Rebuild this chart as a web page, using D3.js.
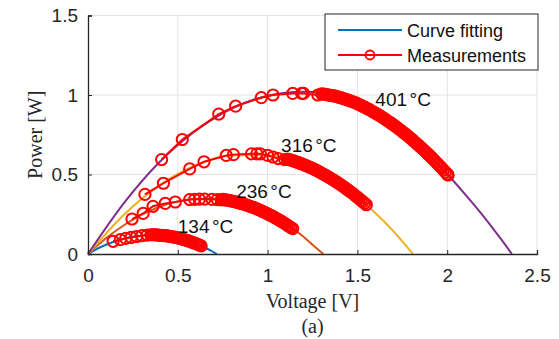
<!DOCTYPE html>
<html>
<head>
<meta charset="utf-8">
<script src="https://cdn.jsdelivr.net/npm/d3@7"></script>
<style>
  body { margin: 0; background: #fff; }
  svg { display: block; }
</style>
</head>
<body>
<div id="chart"></div>
<script>
// fitted curves (voltage, power)
const fit134V = [0, 0.05, 0.1, 0.2, 0.3, 0.4, 0.5, 0.6, 0.65, 0.7, 0.717];
const fit134P = [0, 0.032, 0.058, 0.097, 0.117, 0.118, 0.101, 0.066, 0.041, 0.011, 0];
const fit236V = [0, 0.1, 0.2, 0.3, 0.4, 0.5, 0.6, 0.7, 0.8, 0.9, 1.0, 1.1, 1.2, 1.25, 1.31];
const fit236P = [0, 0.099, 0.181, 0.247, 0.297, 0.331, 0.348, 0.349, 0.333, 0.301, 0.253, 0.189, 0.108, 0.058, 0];
const fit316V = [0, 0.2, 0.4, 0.6, 0.8, 1.0, 1.2, 1.4, 1.5, 1.6, 1.7, 1.75, 1.81];
const fit316P = [0, 0.247, 0.433, 0.558, 0.62, 0.621, 0.562, 0.441, 0.357, 0.258, 0.144, 0.08, 0];
const fit401V = [0, 0.2, 0.4, 0.6, 0.8, 1.0, 1.2, 1.4, 1.6, 1.8, 2.0, 2.1, 2.2, 2.3, 2.36];
const fit401P = [0, 0.32, 0.58, 0.775, 0.915, 0.995, 1.02, 0.985, 0.886, 0.724, 0.503, 0.375, 0.24, 0.093, 0];

// measured points
const meas134V = [0.14, 0.18, 0.21, 0.24, 0.27, 0.30, 0.33, 0.35,
  0.36, 0.37, 0.38, 0.39, 0.40, 0.41, 0.42, 0.43, 0.44, 0.45, 0.46, 0.47, 0.48, 0.49, 0.50,
  0.51, 0.52, 0.53, 0.54, 0.55, 0.56, 0.57, 0.58, 0.59, 0.60, 0.61, 0.62, 0.63];
const meas134P = [0.08, 0.09, 0.098, 0.104, 0.11, 0.115, 0.119, 0.121,
  0.121, 0.121, 0.120, 0.119, 0.118, 0.117, 0.116, 0.115, 0.114, 0.112, 0.110, 0.108, 0.106, 0.104, 0.101,
  0.098, 0.095, 0.092, 0.089, 0.086, 0.082, 0.078, 0.074, 0.070, 0.066, 0.061, 0.056, 0.051];
const meas236V = [0.245, 0.307, 0.362, 0.43, 0.486, 0.566, 0.594, 0.62, 0.65, 0.69, 0.72, 0.742,
  0.75, 0.76, 0.77, 0.78, 0.79, 0.80, 0.81, 0.82, 0.83, 0.84, 0.85, 0.86, 0.87, 0.88, 0.89, 0.90,
  0.91, 0.92, 0.93, 0.94, 0.95, 0.96, 0.97, 0.98, 0.99, 1.00, 1.01, 1.02, 1.03, 1.04, 1.05, 1.06,
  1.07, 1.08, 1.09, 1.10, 1.11, 1.12, 1.13, 1.14];
const meas236P = [0.22, 0.255, 0.30, 0.318, 0.327, 0.342, 0.344, 0.345, 0.345, 0.344, 0.342, 0.34,
  0.343, 0.341, 0.340, 0.338, 0.336, 0.333, 0.331, 0.328, 0.325, 0.322, 0.319, 0.316, 0.313, 0.309, 0.305, 0.301,
  0.297, 0.293, 0.289, 0.284, 0.279, 0.274, 0.269, 0.264, 0.259, 0.253, 0.247, 0.242, 0.236, 0.229, 0.223, 0.216,
  0.210, 0.203, 0.196, 0.189, 0.181, 0.174, 0.166, 0.16];
const meas316V = [0.317, 0.42, 0.566, 0.646, 0.77, 0.81, 0.91, 0.94, 0.96, 1.0, 1.03, 1.06, 1.095,
  1.11, 1.12, 1.13, 1.14, 1.15, 1.16, 1.17, 1.18, 1.19, 1.20, 1.21, 1.22, 1.23, 1.24, 1.25, 1.26,
  1.27, 1.28, 1.29, 1.30, 1.31, 1.32, 1.33, 1.34, 1.35, 1.36, 1.37, 1.38, 1.39, 1.40, 1.41, 1.42,
  1.43, 1.44, 1.45, 1.46, 1.47, 1.48, 1.49, 1.50, 1.51, 1.52, 1.53, 1.54, 1.55];
const meas316P = [0.375, 0.445, 0.535, 0.58, 0.62, 0.625, 0.63, 0.63, 0.63, 0.62, 0.61, 0.60, 0.594,
  0.597, 0.594, 0.590, 0.587, 0.583, 0.579, 0.575, 0.571, 0.567, 0.562, 0.558, 0.553, 0.548, 0.543, 0.538, 0.532,
  0.527, 0.521, 0.515, 0.509, 0.503, 0.497, 0.490, 0.484, 0.477, 0.470, 0.463, 0.456, 0.448, 0.441, 0.433, 0.425,
  0.417, 0.409, 0.401, 0.392, 0.384, 0.375, 0.366, 0.357, 0.348, 0.338, 0.329, 0.319, 0.31];
const meas401V = [0.41, 0.525, 0.728, 0.822, 0.965, 1.03, 1.14, 1.19, 1.20, 1.28,
  1.30, 1.31, 1.32, 1.33, 1.34, 1.35, 1.36, 1.37, 1.38, 1.39, 1.40, 1.41, 1.42, 1.43, 1.44, 1.45,
  1.46, 1.47, 1.48, 1.49, 1.50, 1.51, 1.52, 1.53, 1.54, 1.55, 1.56, 1.57, 1.58, 1.59, 1.60, 1.61,
  1.62, 1.63, 1.64, 1.65, 1.66, 1.67, 1.68, 1.69, 1.70, 1.71, 1.72, 1.73, 1.74, 1.75, 1.76, 1.77,
  1.78, 1.79, 1.80, 1.81, 1.82, 1.83, 1.84, 1.85, 1.86, 1.87, 1.88, 1.89, 1.90, 1.91, 1.92, 1.93,
  1.94, 1.95, 1.96, 1.97, 1.98, 1.99, 2.00, 2.005];
const meas401P = [0.594, 0.72, 0.88, 0.93, 0.983, 1.0, 1.01, 1.01, 1.01, 1.0,
  1.008, 1.006, 1.004, 1.002, 1.0, 0.998, 0.996, 0.994, 0.991, 0.988, 0.985, 0.982, 0.979, 0.975, 0.971, 0.967,
  0.963, 0.959, 0.955, 0.950, 0.946, 0.940, 0.935, 0.929, 0.924, 0.918, 0.912, 0.906, 0.899, 0.893, 0.886, 0.880,
  0.873, 0.866, 0.859, 0.851, 0.844, 0.836, 0.828, 0.821, 0.813, 0.804, 0.796, 0.787, 0.779, 0.770, 0.761, 0.752,
  0.743, 0.733, 0.724, 0.714, 0.704, 0.694, 0.684, 0.674, 0.664, 0.653, 0.643, 0.632, 0.621, 0.610, 0.598, 0.587,
  0.575, 0.564, 0.552, 0.540, 0.528, 0.515, 0.503, 0.497];

const xTicks = [0, 0.5, 1, 1.5, 2, 2.5];
const yTicks = [0, 0.5, 1, 1.5];
const tempLabels = ['134', '236', '316', '401'];
const labelV = [0.5, 0.825, 1.075, 1.6];
const labelP = [0.135, 0.35, 0.64, 0.93];
const fitColors = ['#0072BD', '#D95319', '#EDB120', '#7E2F8E'];

const fits = [
  { v: fit134V, p: fit134P },
  { v: fit236V, p: fit236P },
  { v: fit316V, p: fit316P },
  { v: fit401V, p: fit401P }
];
const meas = [
  { v: meas134V, p: meas134P },
  { v: meas236V, p: meas236P },
  { v: meas316V, p: meas316P },
  { v: meas401V, p: meas401P }
];

const W = 559, H = 339;
const plotL = 88, plotR = 537, plotT = 15.5, plotB = 254;
const axisColor = '#262626';
const sans = "Arial, 'Liberation Sans', sans-serif";
const serif = "'Times New Roman', 'Liberation Serif', serif";

const svg = d3.select('#chart').append('svg').attr('width', W).attr('height', H);

const x = d3.scaleLinear().domain([0, 2.5]).range([plotL, plotR]);
const y = d3.scaleLinear().domain([0, 1.5]).range([plotB, plotT]);

// grid
svg.append('g').selectAll('line').data(xTicks.slice(1)).join('line')
  .attr('x1', d => x(d)).attr('x2', d => x(d)).attr('y1', plotT).attr('y2', plotB)
  .attr('stroke', '#e3e3e3').attr('stroke-width', 1);
svg.append('g').selectAll('line').data(yTicks.slice(1)).join('line')
  .attr('x1', plotL).attr('x2', plotR).attr('y1', d => y(d)).attr('y2', d => y(d))
  .attr('stroke', '#e3e3e3').attr('stroke-width', 1);

// fitted curves
const line = d3.line().x(d => x(d[0])).y(d => y(d[1])).curve(d3.curveMonotoneX);
fits.forEach((f, i) => {
  svg.append('path')
    .datum(f.v.map((v, j) => [v, f.p[j]]))
    .attr('d', line).attr('fill', 'none')
    .attr('stroke', fitColors[i]).attr('stroke-width', 2);
});

// measurements
const mline = d3.line().x(d => x(d[0])).y(d => y(d[1]));
meas.forEach(m => {
  const pts = m.v.map((v, j) => [v, m.p[j]]);
  svg.append('path').datum(pts).attr('d', mline)
    .attr('fill', 'none').attr('stroke', '#ff0000').attr('stroke-width', 2);
  svg.append('g').selectAll('circle').data(pts).join('circle')
    .attr('cx', d => x(d[0])).attr('cy', d => y(d[1])).attr('r', 5.6)
    .attr('fill', 'none').attr('stroke', '#ff0000').attr('stroke-width', 2);
});

// axes
const xAxis = svg.append('g').attr('transform', `translate(0,${plotB})`)
  .call(d3.axisBottom(x).tickValues(xTicks).tickSize(-4).tickPadding(10).tickFormat(d3.format('')));
const yAxis = svg.append('g').attr('transform', `translate(${plotL},0)`)
  .call(d3.axisLeft(y).tickValues(yTicks).tickSize(-4).tickPadding(10).tickFormat(d3.format('')));
[xAxis, yAxis].forEach(a => {
  a.select('.domain').attr('stroke', axisColor).attr('stroke-width', 1.3);
  a.selectAll('.tick line').attr('stroke', axisColor).attr('stroke-width', 1);
  a.selectAll('.tick text').attr('fill', axisColor)
    .style('font-family', sans).style('font-size', '19px');
});
xAxis.selectAll('.tick text').attr('dy', '0.95em');

// temperature labels
const tl = svg.append('g').selectAll('text').data(tempLabels).join('text')
  .attr('x', (d, i) => x(labelV[i]))
  .attr('y', (d, i) => y(labelP[i]))
  .attr('fill', '#111')
  .style('font-family', sans).style('font-size', '19px');
tl.append('tspan').text(d => d);
tl.append('tspan').attr('dx', 2.5).text('°C');

// axis titles
svg.append('text').attr('x', (plotL + plotR) / 2).attr('y', 308)
  .attr('text-anchor', 'middle').attr('fill', axisColor)
  .style('font-family', serif).style('font-size', '20px').text('Voltage [V]');
svg.append('text').attr('x', (plotL + plotR) / 2).attr('y', 333)
  .attr('text-anchor', 'middle').attr('fill', axisColor)
  .style('font-family', serif).style('font-size', '20px').text('(a)');
svg.append('text')
  .attr('transform', `translate(42,${(plotT + plotB) / 2}) rotate(-90)`)
  .attr('text-anchor', 'middle').attr('fill', axisColor)
  .style('font-family', serif).style('font-size', '20px').text('Power [W]');

// legend
const lg = svg.append('g');
lg.append('rect').attr('x', 325).attr('y', 14).attr('width', 213).attr('height', 56)
  .attr('fill', '#fff').attr('stroke', axisColor).attr('stroke-width', 1);
lg.append('line').attr('x1', 338).attr('x2', 402).attr('y1', 30).attr('y2', 30)
  .attr('stroke', fitColors[0]).attr('stroke-width', 2);
lg.append('line').attr('x1', 338).attr('x2', 402).attr('y1', 55).attr('y2', 55)
  .attr('stroke', '#ff0000').attr('stroke-width', 2);
lg.append('circle').attr('cx', 370).attr('cy', 55).attr('r', 4.5)
  .attr('fill', 'none').attr('stroke', '#ff0000').attr('stroke-width', 1.8);
lg.selectAll('text.lbl').data(['Curve fitting', 'Measurements']).join('text')
  .attr('x', 407).attr('y', (d, i) => 37 + i * 25)
  .attr('fill', '#111')
  .style('font-family', sans).style('font-size', '18px')
  .text(d => d);
</script>
</body>
</html>
